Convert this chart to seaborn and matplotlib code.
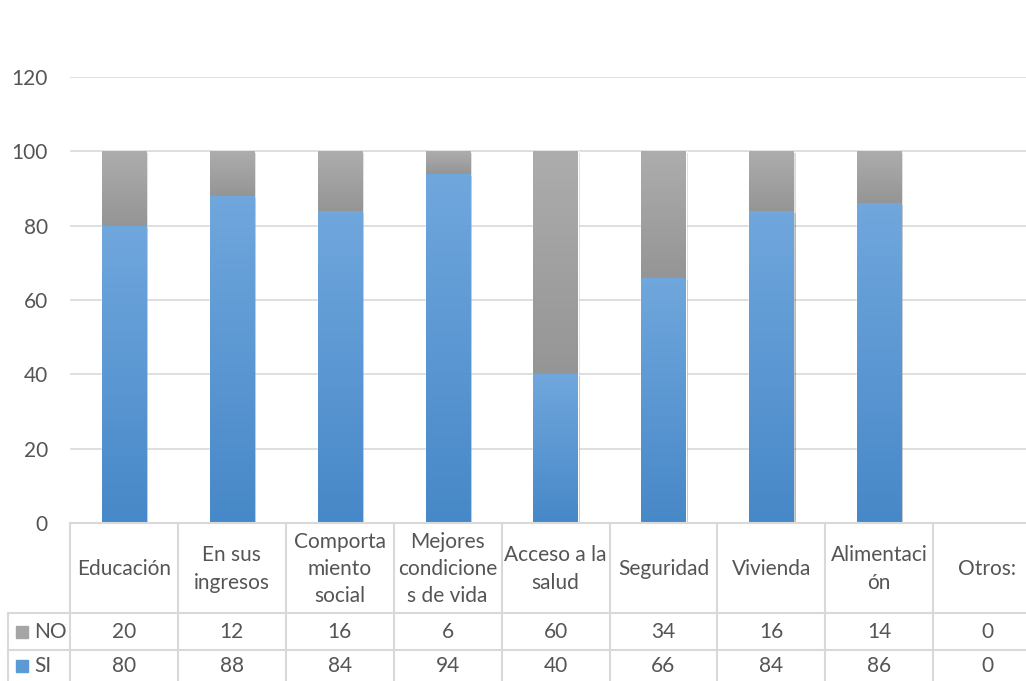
import numpy as np
import pandas as pd
import seaborn as sns
import matplotlib.pyplot as plt
import matplotlib.transforms as mtransforms
import matplotlib.patheffects as pe
from matplotlib.colors import LinearSegmentedColormap

categorias = ['Educación', 'En sus ingresos', 'Comportamiento social',
              'Mejores condiciones de vida', 'Acceso a la salud', 'Seguridad',
              'Vivienda', 'Alimentación', 'Otros:']
etiquetas = ['Educación', 'En sus\ningresos', 'Comporta\nmiento\nsocial',
             'Mejores\ncondicione\ns de vida', 'Acceso a la\nsalud', 'Seguridad',
             'Vivienda', 'Alimentaci\nón', 'Otros:']
si = [80, 88, 84, 94, 40, 66, 84, 86, 0]
no = [20, 12, 16, 6, 60, 34, 16, 14, 0]

df = pd.DataFrame({'cat': categorias, 'SI': si, 'NO': no})
df['total'] = df['SI'] + df['NO']

AZUL = '#5B9BD5'
GRIS = '#A5A5A5'
TXT = '#555555'
LINEA = '#D9D9D9'

sns.set_theme(style='white')
plt.rcParams['font.family'] = ['Lato', 'DejaVu Sans']

W, H = 1026, 681
fig = plt.figure(figsize=(W / 100, H / 100), dpi=100)
# area del grafico: x desde 70px, celda ~107.9px, y=0 en 523px, 120 en 77px
celda = 107.9
ax = fig.add_axes([70 / W, 1 - 523 / H, 9 * celda / W, (523 - 77) / H])

# barras apiladas: total en gris y SI encima en azul
sns.barplot(data=df, x='cat', y='total', color=GRIS, saturation=1, width=0.41, ax=ax)
sns.barplot(data=df, x='cat', y='SI', color=AZUL, saturation=1, width=0.41, ax=ax)

# degradado tipo Excel dentro de cada segmento
cmap_gris = LinearSegmentedColormap.from_list('g', ['#959595', '#ADADAD'])
cmap_azul = LinearSegmentedColormap.from_list('a', ['#4788C8', '#70A7DD'])
grad = np.linspace(0, 1, 256).reshape(-1, 1)
n = len(categorias)
for k, p in enumerate(ax.patches):
    if p.get_height() <= 0:
        continue
    p.set_path_effects([pe.SimplePatchShadow(offset=(1.5, -1.5), alpha=0.18), pe.Normal()])
    x0, w = p.get_x(), p.get_width()
    if k < n:
        y0, y1, cm = si[k], p.get_height(), cmap_gris
    else:
        y0, y1, cm = 0, p.get_height(), cmap_azul
    im = ax.imshow(grad, extent=[x0, x0 + w, y0, y1], origin='lower', aspect='auto',
                   cmap=cm, zorder=p.get_zorder() + 0.5 + (k >= n) * 0.1)
    im.set_clip_path(p)

ax.set_ylim(0, 120)
ax.set_xlim(-0.5, 8.5)
ax.set_yticks(range(0, 121, 20))
ax.yaxis.grid(True, color=LINEA, lw=1.2)
ax.set_axisbelow(True)
ax.tick_params(axis='y', length=0, pad=16, labelsize=15, labelcolor=TXT)
ax.set_xticks([])
ax.set_xlabel('')
ax.set_ylabel('')
for s in ['top', 'right', 'left']:
    ax.spines[s].set_visible(False)
ax.spines['bottom'].set_color(LINEA)
ax.spines['bottom'].set_linewidth(1.5)

# tabla de datos debajo del grafico
trans = mtransforms.blended_transform_factory(ax.transData, fig.transFigure)

def fy(py):
    return 1 - py / H

y_top, y_no, y_si, y_fin = 523, 613, 650, 681
for i in range(10):
    xl = i - 0.5
    fig.add_artist(plt.Line2D([xl, xl], [fy(y_top), fy(y_fin)], transform=trans,
                              color=LINEA, lw=1.5))
for py in [y_no, y_si]:
    fig.add_artist(plt.Line2D([8 / W, 1], [fy(py), fy(py)], transform=fig.transFigure,
                              color=LINEA, lw=1.5))
fig.add_artist(plt.Line2D([8 / W, 8 / W], [fy(y_no), fy(y_fin)], transform=fig.transFigure,
                          color=LINEA, lw=1.5))

for i, (lab, a, b) in enumerate(zip(etiquetas, no, si)):
    fig.text(i, fy(569), lab, transform=trans, ha='center', va='center',
             fontsize=15, color=TXT, linespacing=1.45)
    fig.text(i, fy(632), str(a), transform=trans, ha='center', va='center',
             fontsize=15, color=TXT)
    fig.text(i, fy(666), str(b), transform=trans, ha='center', va='center',
             fontsize=15, color=TXT)

# leyenda dentro de la tabla
for py, col, nombre in [(632, GRIS, 'NO'), (666, AZUL, 'SI')]:
    fig.add_artist(plt.Rectangle((16 / W, fy(py + 6)), 12 / W, 12 / H,
                                 transform=fig.transFigure, color=col))
    fig.text(34 / W, fy(py), nombre, ha='left', va='center', fontsize=15, color=TXT)

fig.savefig('out.png', dpi=100)
